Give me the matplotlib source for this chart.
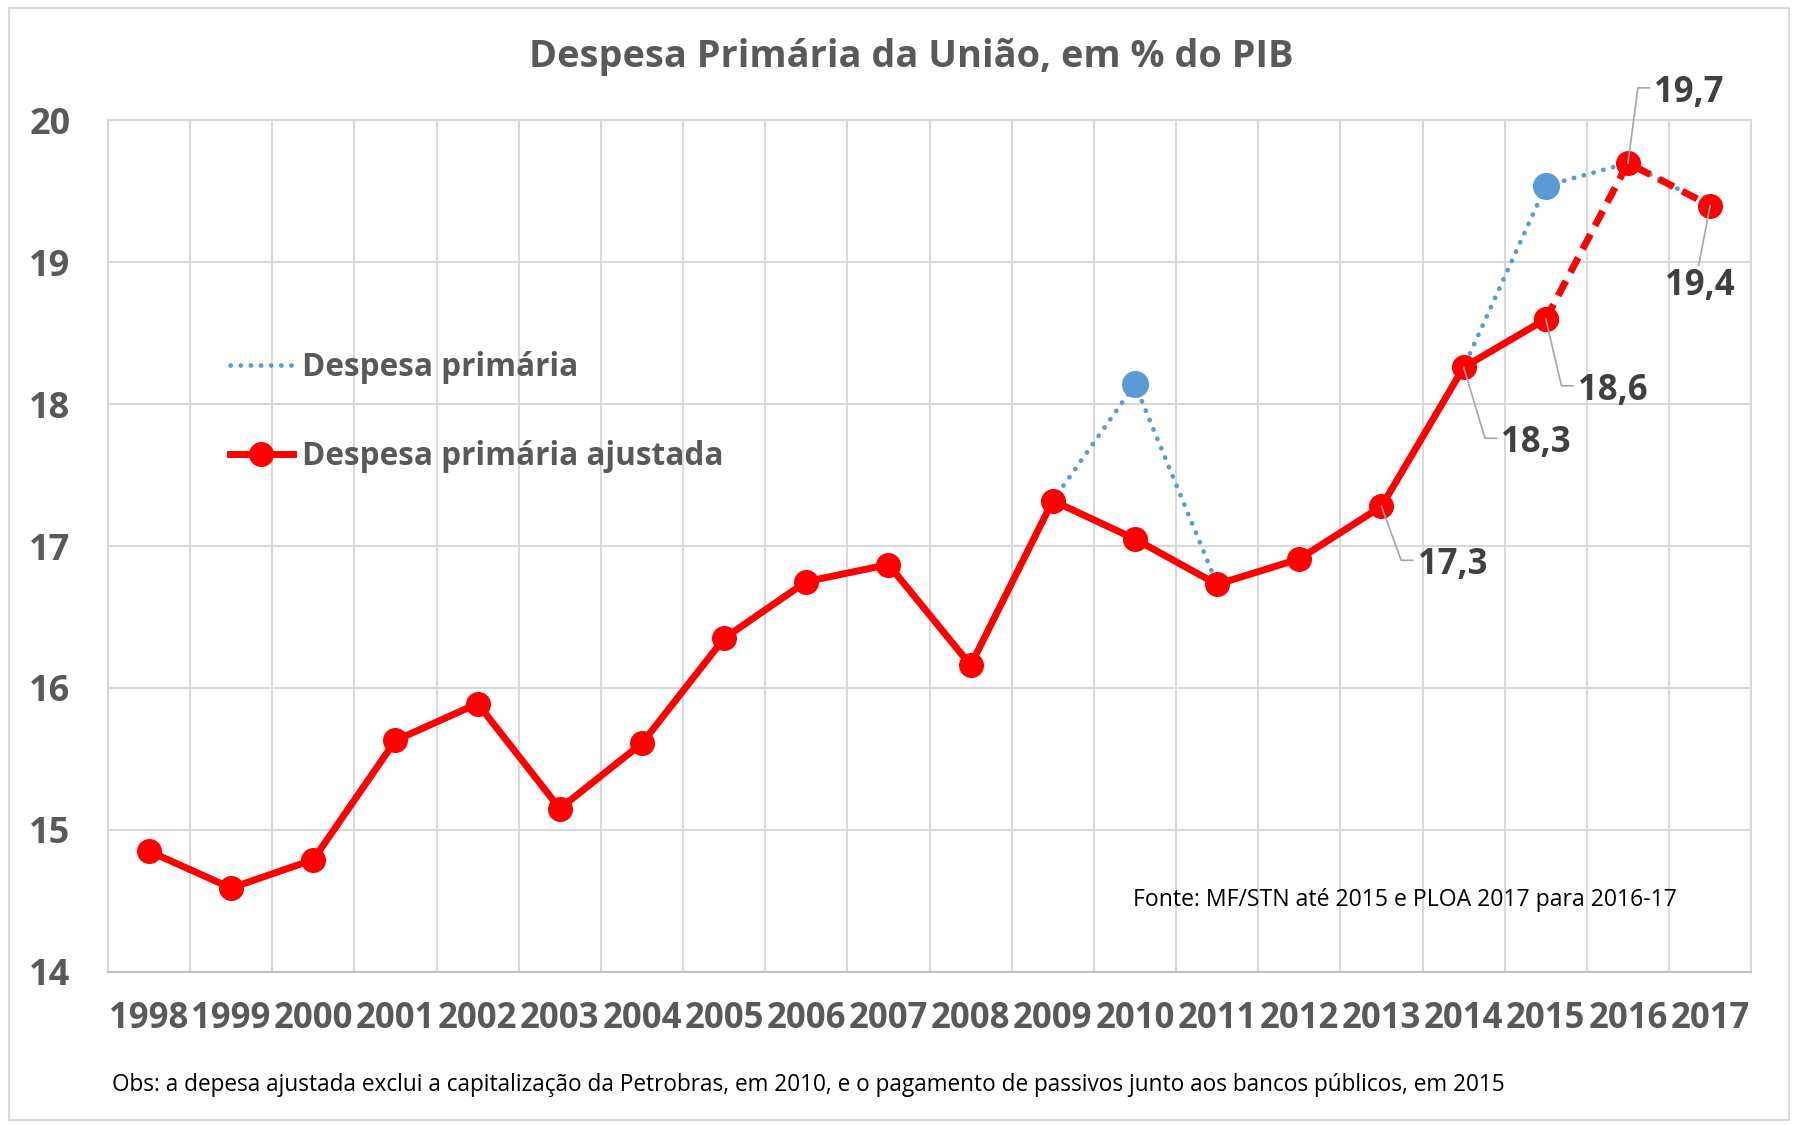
import numpy as np
import matplotlib
matplotlib.use("Agg")
import matplotlib.pyplot as plt

plt.rcParams['font.family'] = ['Open Sans', 'DejaVu Sans']

# dados (% do PIB)
anos = ['1998', '1999', '2000', '2001', '2002', '2003', '2004', '2005', '2006', '2007',
        '2008', '2009', '2010', '2011', '2012', '2013', '2014', '2015', '2016', '2017']
ajustada = [14.85, 14.59, 14.79, 15.63, 15.89, 15.15, 15.61, 16.35, 16.75, 16.87,
            16.16, 17.32, 17.05, 16.73, 16.91, 17.28, 18.26, 18.60, 19.70, 19.40]
primaria = [14.85, 14.59, 14.79, 15.63, 15.89, 15.15, 15.61, 16.35, 16.75, 16.87,
            16.16, 17.32, 18.14, 16.73, 16.91, 17.28, 18.26, 19.54, 19.70, 19.40]
# rótulos: (índice do ano, texto, posição do cotovelo da linha guia)
rotulos = [(15, '17,3', 15.24, 16.90), (16, '18,3', 16.26, 17.76),
           (17, '18,6', 17.19, 18.13), (18, '19,7', 18.12, 20.23)]

cinza = '#595959'
vermelho = '#FF0000'
azul = '#5B9BD5'
grade = '#D9D9D9'

x = np.arange(len(anos))
aj = np.array(ajustada)
pr = np.array(primaria)

fig = plt.figure(figsize=(17.98, 11.26), dpi=100)
ax = fig.add_axes([0.060, 0.137, 0.914, 0.756])

# série azul pontilhada (fica sob a vermelha)
ax.plot(x, pr, color=azul, lw=3.4, ls=(0, (0.05, 2.1)), dash_capstyle='round',
        label='Despesa primária', zorder=2)
dif = pr != aj
ax.plot(x[dif], pr[dif], 'o', color=azul, ms=18.5, zorder=2)

# série vermelha: contínua até 2015, tracejada depois
ax.plot(x[:18], aj[:18], color=vermelho, lw=5, marker='o', ms=17,
        label='Despesa primária ajustada', zorder=3)
ax.plot(x[17:], aj[17:], color=vermelho, lw=5, ls=(0, (2.4, 1.4)), marker='o', ms=17,
        zorder=3)

# rótulos de dados com linhas guia
for i, t, xe, ye in rotulos:
    ax.plot([x[i], xe, xe + 0.14], [aj[i], ye, ye], color='#A6A6A6', lw=1.2,
            zorder=4, clip_on=False)
    ax.text(xe + 0.2, ye - 0.035, t, fontsize=25, fontweight='bold', color='#404040',
            ha='left', va='center', clip_on=False)
ax.plot([x[19], 18.86], [aj[19], 18.98], color='#A6A6A6', lw=1.2, zorder=4)
ax.text(18.87, 18.83, '19,4', fontsize=25, fontweight='bold', color='#404040',
        ha='center', va='center')

ax.set_xlim(-0.5, 19.5)
ax.set_ylim(14, 20)
ax.set_xticks(x)
ax.set_xticklabels(anos)
ax.set_yticks(range(14, 21))
ax.set_xticks(np.arange(-0.5, 20, 1), minor=True)
ax.grid(which='minor', axis='x', color=grade, lw=1.5)
ax.grid(which='major', axis='y', color=grade, lw=1.5)
ax.tick_params(axis='both', which='both', length=0)
ax.tick_params(axis='x', pad=21, labelsize=25, labelcolor=cinza)
ax.tick_params(axis='y', pad=27, labelsize=26, labelcolor=cinza)
for lb in ax.get_xticklabels() + ax.get_yticklabels():
    lb.set_fontweight('bold')
for s in ax.spines.values():
    s.set_color(grade)
    s.set_linewidth(1.5)
ax.spines['bottom'].set_color('#BFBFBF')

leg = ax.legend(loc='upper left', bbox_to_anchor=(0.057, 0.762), frameon=False,
                fontsize=22.7, handlelength=2.0, handletextpad=0.3, labelspacing=1.75)
for txt in leg.get_texts():
    txt.set_color(cinza)
    txt.set_fontweight('bold')

fig.text(0.507, 0.949, 'Despesa Primária da União, em % do PIB', ha='center', va='center',
         fontsize=27.3, fontweight='bold', color=cinza)
fig.text(0.630, 0.201, 'Fonte: MF/STN até 2015 e PLOA 2017 para 2016-17', ha='left',
         va='center', fontsize=16.6, color='black')
fig.text(0.0625, 0.0366, 'Obs: a depesa ajustada exclui a capitalização da Petrobras, em 2010, '
         'e o pagamento de passivos junto aos bancos públicos, em 2015', ha='left',
         va='center', fontsize=16.3, color='black')

# moldura externa
fig.patches.append(plt.Rectangle((0.005, 0.005), 0.99, 0.988, transform=fig.transFigure,
                                 fill=False, edgecolor=grade, lw=1.5))

fig.savefig('out.png', dpi=100, facecolor='white')
